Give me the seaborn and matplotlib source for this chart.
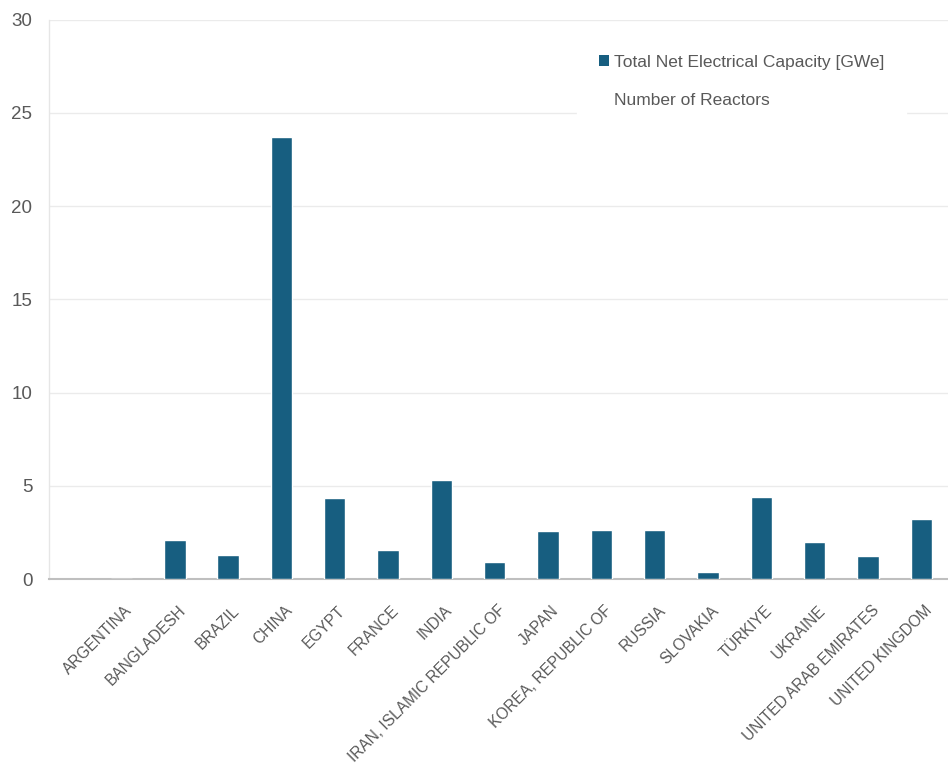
import matplotlib
matplotlib.use("Agg")
import matplotlib.pyplot as plt
from matplotlib.lines import Line2D
from matplotlib.patches import Patch
from matplotlib.transforms import ScaledTranslation
import seaborn as sns
import pandas as pd

countries = ["ARGENTINA", "BANGLADESH", "BRAZIL", "CHINA", "EGYPT", "FRANCE", "INDIA",
             "IRAN, ISLAMIC REPUBLIC OF", "JAPAN", "KOREA, REPUBLIC OF", "RUSSIA",
             "SLOVAKIA", "TÜRKIYE", "UKRAINE", "UNITED ARAB EMIRATES", "UNITED KINGDOM"]
capacity_gwe = [0.03, 2.1, 1.29, 23.69, 4.34, 1.57, 5.32, 0.93, 2.59, 2.64, 2.64,
                0.39, 4.41, 2.0, 1.25, 3.22]
y_ticks = [0, 5, 10, 15, 20, 25, 30]

bar_color = "#175E80"
text_color = "#595959"

sns.set_theme(style="white")
plt.rcParams["font.family"] = ["Liberation Sans", "DejaVu Sans"]

df = pd.DataFrame({"country": countries, "capacity": capacity_gwe})

W, H = 948, 767
fig = plt.figure(figsize=(W / 100, H / 100), dpi=100)
ax_left, ax_top, ax_bottom = 49, 19.5, 579.3
ax = fig.add_axes([ax_left / W, 1 - ax_bottom / H, (W - ax_left) / W,
                   (ax_bottom - ax_top) / H])

sns.barplot(data=df, x="country", y="capacity", color=bar_color, width=0.4,
            saturation=1, ax=ax, zorder=3)

ax.set_xlim(-1.36, 15.5)
ax.set_ylim(0, 30)
ax.set_yticks(y_ticks)
ax.set_yticklabels([str(t) for t in y_ticks], fontsize=13.5, color=text_color)
ax.yaxis.grid(True, color="#EBEBEB", linewidth=1)
ax.set_axisbelow(True)
ax.tick_params(axis="y", length=0, pad=12)
ax.tick_params(axis="x", length=0, pad=17)
ax.set_xticks(range(len(countries)))
ax.set_xticklabels(countries, rotation=45, ha="right", rotation_mode="anchor",
                   fontsize=11.2, color=text_color)
shift = ScaledTranslation(3 / 100, 0, fig.dpi_scale_trans)
for lbl in ax.get_xticklabels():
    lbl.set_transform(lbl.get_transform() + shift)
ax.set_xlabel("")
ax.set_ylabel("")

for side in ["top", "right"]:
    ax.spines[side].set_visible(False)
ax.spines["left"].set_color("#E6E6E6")
ax.spines["left"].set_linewidth(1)
ax.spines["bottom"].set_color("#BFBFBF")
ax.spines["bottom"].set_linewidth(1.5)

handles = [Patch(facecolor=bar_color, edgecolor="none"),
           Line2D([], [], linestyle="none", marker=None)]
plot_w = W - ax_left
plot_h = ax_bottom - ax_top
leg = ax.legend(handles, ["Total Net Electrical Capacity [GWe]", "Number of Reactors"],
                loc="upper left",
                bbox_to_anchor=((577 - ax_left) / plot_w, 1 - (33 - ax_top) / plot_h),
                frameon=True, fontsize=12.5, handlelength=0.6, handleheight=0.6,
                handletextpad=0.3, labelspacing=1.33, borderpad=1.25,
                borderaxespad=0, fancybox=False, framealpha=1)
leg.get_frame().set_edgecolor("white")
leg.get_frame().set_facecolor("white")
for t in leg.get_texts():
    t.set_color(text_color)

fig.savefig("out.png", dpi=100)
